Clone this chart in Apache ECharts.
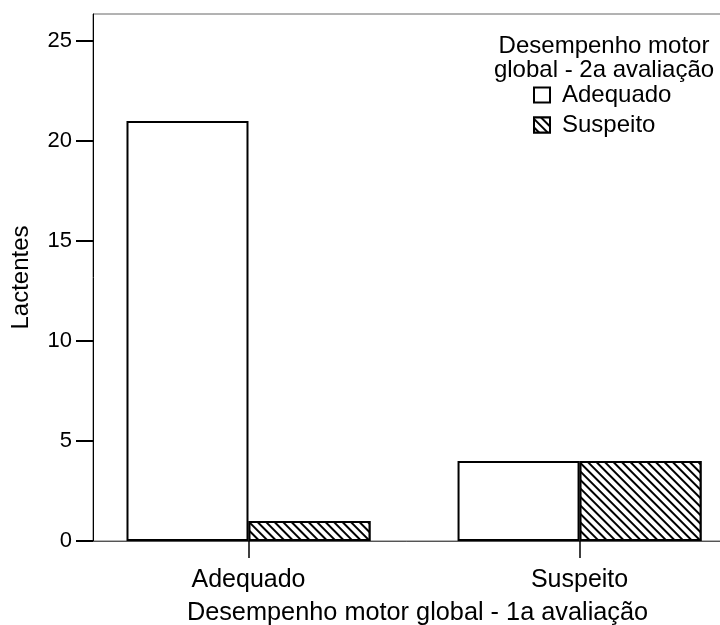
<!DOCTYPE html>
<html>
<head>
<meta charset="utf-8">
<script src="https://cdn.jsdelivr.net/npm/echarts@6/dist/echarts.min.js"></script>
<style>html,body{margin:0;padding:0;background:#fff;}#c{width:720px;height:625px;}</style>
</head>
<body>
<div id="c"></div>
<script>
const categories = ['Adequado', 'Suspeito'];
const seriesNames = ['Adequado', 'Suspeito'];
const valuesAdequado = [21, 4];
const valuesSuspeito = [1, 4];
const yTicks = [0, 5, 10, 15, 20, 25];
const xTitle = 'Desempenho motor global - 1a avaliação';
const yTitle = 'Lactentes';
const legendTitle = 'Desempenho motor\nglobal - 2a avaliação';

const FONT = '"Liberation Sans", Arial, sans-serif';
const chart = echarts.init(document.getElementById('c'));
const catPos = categories.map((c, i) => i + 1);

chart.setOption({
  backgroundColor: '#fff',
  animation: false,
  textStyle: { fontFamily: FONT, color: '#000' },
  title: {
    text: legendTitle,
    left: 599, top: 29, textAlign: 'center',
    textStyle: { fontFamily: FONT, fontSize: 24, fontWeight: 'normal', color: '#000', lineHeight: 24 }
  },
  legend: {
    orient: 'vertical',
    left: 533, top: 83, padding: 0,
    icon: 'rect',
    itemWidth: 16, itemHeight: 15, itemGap: 6,
    textStyle: { fontFamily: FONT, fontSize: 24, color: '#000', padding: [0, 0, 0, 7] },
    data: seriesNames
  },
  grid: { left: 93, top: 14, right: -2, bottom: 84, outerBoundsMode: 'none', containLabel: false,
    show: true, borderColor: '#666', borderWidth: 1, backgroundColor: 'transparent' },
  xAxis: {
    type: 'value',
    min: 0.5303, max: 2.4303,
    name: xTitle, nameLocation: 'middle', nameGap: 60,
    nameTextStyle: { fontFamily: FONT, fontSize: 25.3, color: '#000', padding: [0, 0, 0, 20] },
    axisLine: { show: true, lineStyle: { color: '#555', width: 1 } },
    axisTick: { show: true, customValues: catPos, length: 17, lineStyle: { color: '#000', width: 1.5 } },
    axisLabel: { customValues: catPos, margin: 27, fontFamily: FONT, fontSize: 25, color: '#000',
      formatter: v => categories[Math.round(v) - 1] || '' },
    splitLine: { show: false }
  },
  yAxis: {
    type: 'value',
    min: 0, max: 26.35, interval: 5,
    name: yTitle, nameLocation: 'middle', nameGap: 60,
    nameTextStyle: { fontFamily: FONT, fontSize: 24, color: '#000' },
    axisLine: { show: true, lineStyle: { color: '#000', width: 1 } },
    axisTick: { show: true, customValues: yTicks, length: 17, lineStyle: { color: '#000', width: 2 } },
    axisLabel: { customValues: yTicks, margin: 21, fontFamily: FONT, fontSize: 22, color: '#000' },
    splitLine: { show: false }
  },
  series: [
    {
      name: seriesNames[0], type: 'bar', barWidth: 122, barGap: '0%',
      data: catPos.map((p, i) => [p, valuesAdequado[i]]),
      itemStyle: { color: '#fff', borderColor: '#000', borderWidth: 2 }
    },
    {
      name: seriesNames[1], type: 'bar', barWidth: 122, barGap: '0%',
      data: catPos.map((p, i) => [p, valuesSuspeito[i]]),
      itemStyle: { color: '#fff', borderColor: '#000', borderWidth: 2,
        decal: { symbol: 'rect', symbolSize: 1, color: '#000', backgroundColor: '#fff',
          dashArrayX: [1, 0], dashArrayY: [1.6, 3.4], rotation: Math.PI / 4 } }
    }
  ]
});
</script>
</body>
</html>
